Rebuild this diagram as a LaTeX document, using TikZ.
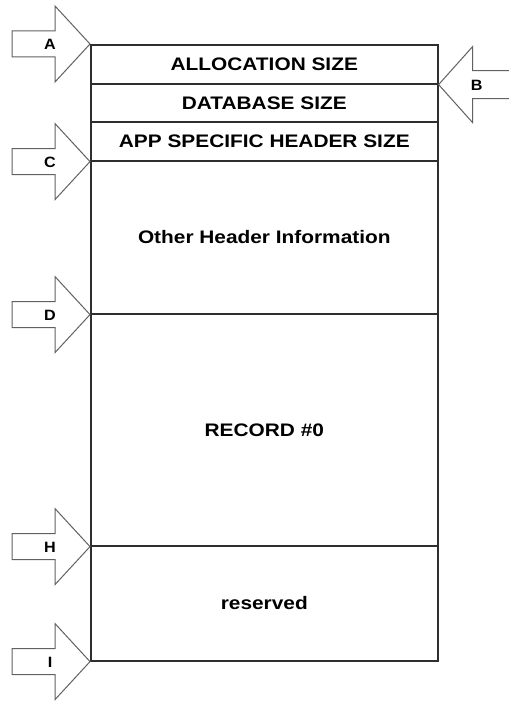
\documentclass[tikz,border=0pt]{standalone}
\usepackage{fontspec}
\newfontfamily\boxfont[FakeStretch=1.15]{Liberation Sans}
\newfontfamily\tagfont[FakeStretch=1.08]{Liberation Sans}
\begin{document}
\begin{tikzpicture}[x=1bp,y=-1bp,
  rowbox/.style={draw=black!82, line width=1.6bp, rectangle, minimum width=347bp,
    anchor=north west, inner sep=0pt},
  rowtext/.style={font=\boxfont\bfseries\fontsize{18.2}{20}\selectfont, text=black,
    text height=13bp, text depth=0pt, inner sep=0pt},
  arrowline/.style={draw=black!62, line width=1bp, fill=white, line join=miter},
  tagtext/.style={font=\tagfont\bfseries\fontsize{15}{16}\selectfont, text=black,
    text height=10.8bp, text depth=0pt, inner sep=0pt},
  pics/inarrow/.style={code={
    \draw[arrowline] (-78,-13) -- (-35,-13) -- (-35,-38) -- (0,0)
      -- (-35,38) -- (-35,13) -- (-78,13) -- cycle;
    \node[tagtext] (-tag) at (-40,0) {#1};}},
  pics/outarrow/.style={code={
    \draw[arrowline] (90,-14) -- (34,-14) -- (34,-38) -- (0,0)
      -- (34,38) -- (34,14) -- (90,14);
    \node[tagtext] (-tag) at (38,0) {#1};}}
]
\useasboundingbox (0,0) rectangle (509,701);
\fill[white] (0,0) rectangle (509,701);

% stacked layout of the database file
\node[rowbox, minimum height=39bp]  (alloc)  at (90,44)  {};
\node[rowbox, minimum height=38bp]  (dbsize) at (90,83)  {};
\node[rowbox, minimum height=39bp]  (appsz)  at (90,121) {};
\node[rowbox, minimum height=153bp] (other)  at (90,160) {};
\node[rowbox, minimum height=232bp] (rec)    at (90,313) {};
\node[rowbox, minimum height=115bp] (resv)   at (90,545) {};

\node[rowtext] at (alloc.center)  {ALLOCATION SIZE};
\node[rowtext] at (dbsize.center) {DATABASE SIZE};
\node[rowtext] at (appsz.center)  {APP SPECIFIC HEADER SIZE};
\node[rowtext] at (other.center)  {Other Header Information};
\node[rowtext] at (rec.center)    {RECORD \#0};
\node[rowtext] at ([yshift=0.5bp]resv.center) {reserved};

% offset markers
\begin{scope}
\clip (0,0) rectangle (509,701);
\pic (A) at (alloc.north west)  {inarrow=A};
\pic (C) at (appsz.south west)  {inarrow=C};
\pic (D) at (other.south west)  {inarrow=D};
\pic (H) at (rec.south west)    {inarrow=H};
\pic (I) at (resv.south west)   {inarrow=I};
\pic (B) at (alloc.south east)  {outarrow=B};
\end{scope}
\end{tikzpicture}
\end{document}
